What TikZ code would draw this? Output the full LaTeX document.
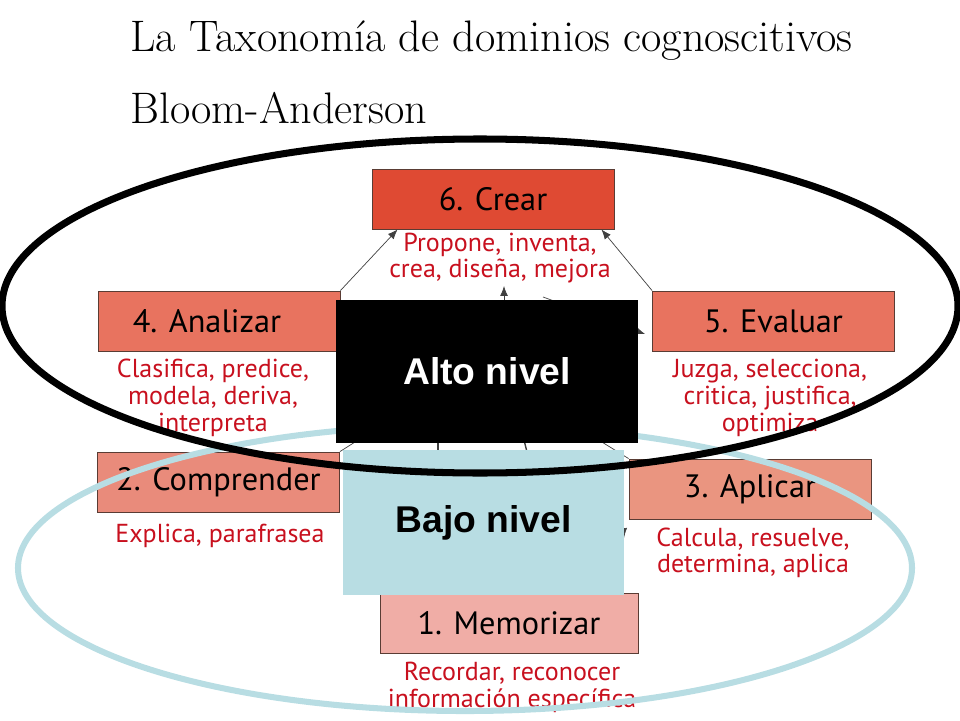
\documentclass[tikz,border=0pt]{standalone}
\usepackage{fontspec}
\newfontfamily\handfont{PT Sans}
\newfontfamily\levelfont{Liberation Sans}
\usetikzlibrary{arrows.meta}

\definecolor{crearred}{HTML}{DF4A33}
\definecolor{highred}{HTML}{E8735F}
\definecolor{midred}{HTML}{E98B7B}
\definecolor{aplired}{HTML}{EA9580}
\definecolor{lowred}{HTML}{F0ADA6}
\definecolor{verbred}{HTML}{C8101E}
\definecolor{levelblue}{HTML}{B8DDE3}
\definecolor{boxline}{HTML}{5A3C34}

\tikzset{
  levelbox/.style={draw=boxline, line width=0.6pt, minimum width=6.05cm, minimum height=1.5cm,
    font=\handfont\fontsize{23}{26}\selectfont},
  verbs/.style={text=verbred, align=center, inner sep=0pt,
    font=\handfont\fontsize{18.5}{19}\selectfont},
  arr/.style={-{Latex[length=7pt,width=5.5pt]}, draw=black!75, line width=0.5pt}
}

\begin{document}
\begin{tikzpicture}
  \useasboundingbox (0,0) rectangle (24,18);

  % Title
  \node[anchor=base west, inner sep=0pt, font=\fontsize{31.4}{36}\selectfont] (title) at (3.25,16.7) {La Taxonomía de dominios cognoscitivos};
  \node[anchor=base west, inner sep=0pt, font=\fontsize{31.4}{36}\selectfont] (subtitle) at (3.25,14.9) {Bloom-Anderson};

  % Levels of the taxonomy
  \node[levelbox, fill=crearred] (crear) at (12.325,13.025) {6. Crear};
  \node[levelbox, fill=highred] (analizar) at (5.475,9.975) {\hspace*{-0.6cm}4. Analizar};
  \node[levelbox, fill=highred] (evaluar) at (19.3375,9.975) {5. Evaluar};
  \node[levelbox, fill=midred] (comprender) at (5.4625,5.95) {2. Comprender};
  \node[levelbox, fill=aplired] (aplicar) at (18.75,5.775) {3. Aplicar};
  \node[levelbox, fill=lowred, minimum width=6.45cm] (memorizar) at (12.725,2.425) {1. Memorizar};

  % Verbs under each level
  \node[verbs] (crearverbs) at (12.5,11.55) {Propone, inventa,\\crea, diseña, mejora};
  \node[verbs] (analizarverbs) at (5.325,8.05) {Clasifica, predice,\\modela, deriva,\\interpreta};
  \node[verbs] (evaluarverbs) at (19.25,8.05) {Juzga, selecciona,\\critica, justifica,\\optimiza};
  \node[verbs] (comprenderverbs) at (5.5,4.6) {Explica, parafrasea};
  \node[verbs] (aplicarverbs) at (18.825,4.18) {Calcula, resuelve,\\determina, aplica};
  \node[verbs] (memorizarverbs) at (12.8,0.82) {Recordar, reconocer\\información específica};

  % Hidden ends of the arrows
  \coordinate (upsrc) at (12.6,9.2);
  \coordinate (uptip) at (12.6,10.85);
  \coordinate (evalsrc) at (13.575,10.575);
  \coordinate (evaltip) at (16.125,9.65);
  \coordinate (compend) at (10,7.66);
  \coordinate (aplend) at (14,7.6);
  \coordinate (leftlow) at (10.95,6.2);
  \coordinate (lefthigh) at (10.95,7.4);
  \coordinate (midlow) at (13.3,6.2);
  \coordinate (midhigh) at (13.0,7.4);
  \coordinate (downsrc) at (15.45,6.5);
  \coordinate (downtip) at (15.6,4.55);

  % Arrows
  \draw[arr] (analizar.north east) -- ([xshift=0.65cm]crear.south west);
  \draw[arr] (evaluar.north west) -- ([xshift=-0.325cm]crear.south east);
  \draw[arr] (upsrc) -- (uptip);
  \draw[arr] (evalsrc) -- (evaltip);
  \draw[arr] (comprender.north east) -- (compend);
  \draw[arr] (aplicar.north west) -- (aplend);
  \draw[arr, line width=1pt] (leftlow) -- (lefthigh);
  \draw[arr, line width=1pt] (midlow) -- (midhigh);
  \draw[arr] (downsrc) -- (downtip);

  % Low level
  \node[fill=levelblue, minimum width=7.025cm, minimum height=3.625cm,
    font=\levelfont\bfseries\fontsize{26.5}{30}\selectfont] (bajo) at (12.0875,4.9375) {Bajo nivel};
  \draw[levelblue, line width=4.3pt] (11.625,3.8) ellipse [x radius=11.175, y radius=3.575];

  % High level
  \draw[line width=5pt] (12,10.35) ellipse [x radius=11.95, y radius=4.175];
  \node[fill=black, text=white, minimum width=7.55cm, minimum height=3.575cm,
    font=\levelfont\bfseries\fontsize{26.5}{30}\selectfont] (alto) at (12.175,8.7125) {Alto nivel};
\end{tikzpicture}
\end{document}
